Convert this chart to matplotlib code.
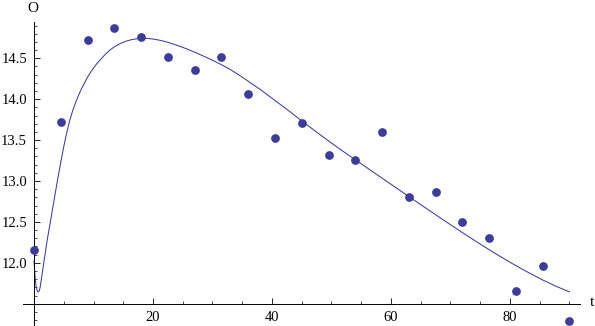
import matplotlib
matplotlib.use("Agg")
import matplotlib.pyplot as plt
from matplotlib.ticker import FixedLocator, FixedFormatter

# measured data points
t_data = [0, 4.5, 9, 13.5, 18, 22.5, 27, 31.5, 36, 40.5, 45, 49.5, 54, 58.5,
          63, 67.5, 72, 76.5, 81, 85.5, 90]
o_data = [12.16, 13.72, 14.72, 14.87, 14.76, 14.51, 14.36, 14.51, 14.06, 13.52,
          13.71, 13.32, 13.26, 13.60, 12.81, 12.87, 12.50, 12.30, 11.66, 11.96, 11.29]

# fitted curve, values
curve_t = [0, 0.15, 0.3, 0.45, 0.6, 0.75, 0.9, 1.05, 1.3, 1.6, 1.85, 2.2, 2.7, 3.1,
           3.5, 4.0, 4.5, 5.0, 5.5, 6.0, 6.5, 7.0, 7.5, 8.0, 8.5, 9.0, 9.7, 10.5,
           11.25, 12.0, 12.75, 13.5, 14.5, 15.5, 16.5, 17.5, 18.5, 19.5, 20.5,
           21.5, 22.5, 24, 25.5, 27, 28.5, 30, 31.5, 33, 34.5, 36, 38, 40.5, 43,
           45, 47, 49.5, 52, 54, 56, 58.5, 61, 63, 65.5, 67.5, 70, 72, 74, 76.5,
           79, 81, 83, 85.5, 88, 90]
curve_o = [12.02, 11.86, 11.74, 11.68, 11.65, 11.645, 11.66, 11.71, 11.83, 11.98,
           12.10, 12.27, 12.48, 12.65, 12.82, 13.03, 13.23, 13.42, 13.59, 13.74,
           13.86, 13.96, 14.05, 14.13, 14.20, 14.27, 14.35, 14.43, 14.49, 14.55,
           14.60, 14.64, 14.68, 14.71, 14.73, 14.74, 14.745, 14.74, 14.73, 14.715,
           14.695, 14.66, 14.62, 14.575, 14.527, 14.476, 14.422, 14.362, 14.294,
           14.22, 14.12, 13.985, 13.848, 13.735, 13.625, 13.49, 13.36, 13.26,
           13.16, 13.035, 12.91, 12.81, 12.686, 12.588, 12.466, 12.37, 12.275,
           12.16, 12.05, 11.965, 11.885, 11.79, 11.705, 11.645]

x_major = [20, 40, 60, 80]
y_major = [12.0, 12.5, 13.0, 13.5, 14.0, 14.5]
y_labels = ["12.0", "12.5", "13.0", "13.5", "14.0", "14.5"]

color = (0.24, 0.24, 0.6)

W, H = 595, 326
fig = plt.figure(figsize=(W / 100, H / 100), dpi=100)

xlim = (-1.9, 91.8)
ylim = (11.23, 14.94)
px_l, px_r = 22.7, 580.2
px_top, px_bot = 22.3, 325.8
ax = fig.add_axes([px_l / W, 1 - px_bot / H, (px_r - px_l) / W, (px_bot - px_top) / H])
ax.set_xlim(*xlim)
ax.set_ylim(*ylim)
ax.patch.set_alpha(0)

ax.plot(curve_t, curve_o, color=color, lw=0.75, solid_joinstyle="round", zorder=2)
ax.plot(t_data, o_data, "o", color=color, markersize=6.3, markeredgewidth=0,
        clip_on=False, zorder=3)

for s in ["top", "right"]:
    ax.spines[s].set_visible(False)
ax.spines["left"].set_position(("data", 0))
ax.spines["bottom"].set_position(("data", 11.5))
for s in ["left", "bottom"]:
    ax.spines[s].set_linewidth(0.7)
    ax.spines[s].set_color("black")

serif = "Liberation Serif"
ax.xaxis.set_major_locator(FixedLocator(x_major))
ax.xaxis.set_minor_locator(FixedLocator([v for v in range(5, 95, 5) if v not in x_major]))
ax.yaxis.set_major_locator(FixedLocator(y_major))
ax.yaxis.set_major_formatter(FixedFormatter(y_labels))
ax.yaxis.set_minor_locator(FixedLocator([round(11.3 + 0.1 * i, 1) for i in range(37)
                                         if round(11.3 + 0.1 * i, 1) not in y_major
                                         and abs(11.3 + 0.1 * i - 11.5) > 1e-6]))
ax.tick_params(which="major", direction="in", length=4, width=0.6, labelsize=10.5, pad=5)
ax.tick_params(which="minor", direction="in", length=2.3, width=0.5)
for lab in ax.get_xticklabels() + ax.get_yticklabels():
    lab.set_fontfamily(serif)

fig.text(592 / W, 1 - 303 / H, "t", family=serif, fontsize=11, ha="center", va="center")
fig.text(33 / W, 1 - 8 / H, "O", family=serif, fontsize=11, ha="center", va="center")

fig.savefig("out.png", dpi=100)
